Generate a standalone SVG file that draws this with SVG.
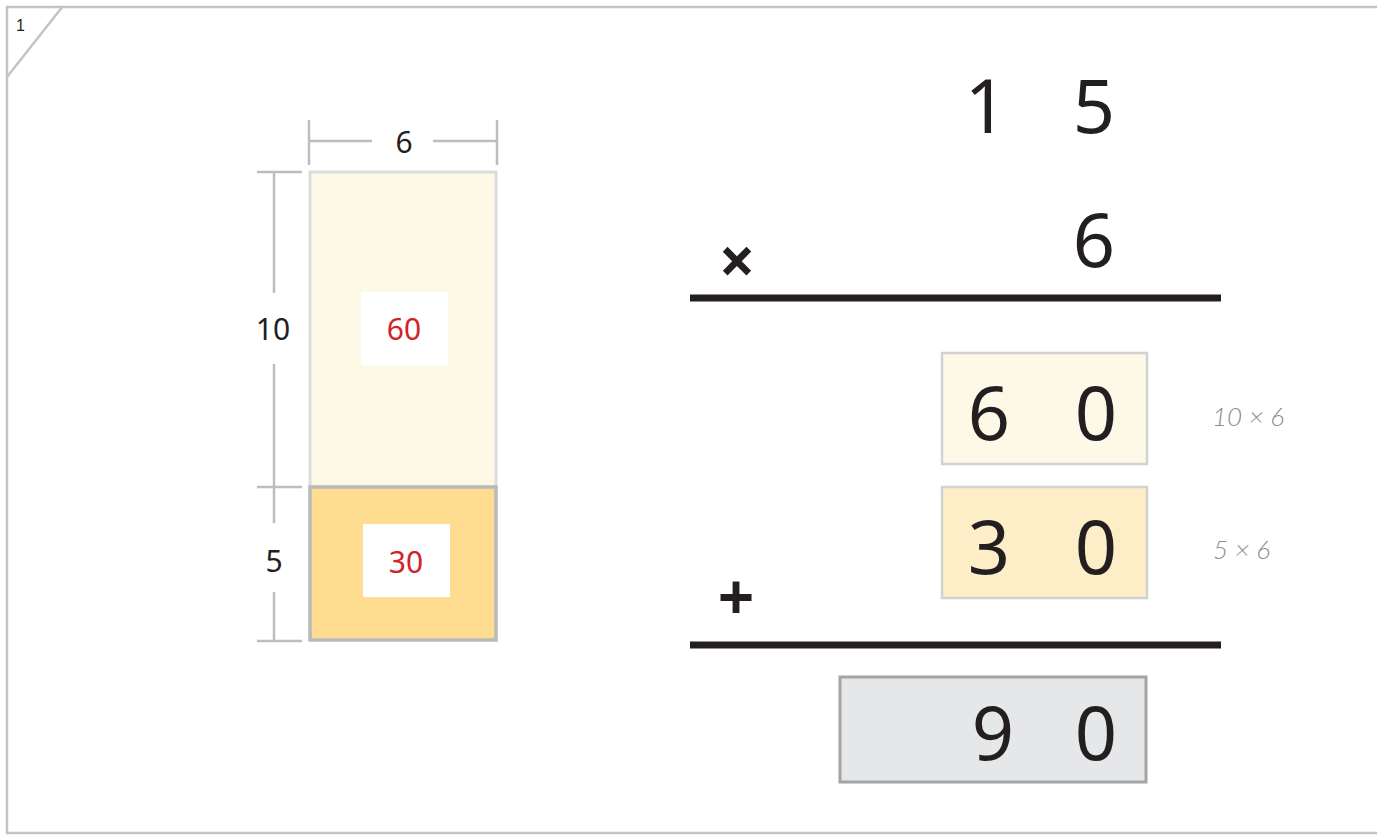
<svg xmlns="http://www.w3.org/2000/svg" width="1377" height="835" viewBox="0 0 1377 835">
<style>
.frame{fill:none;stroke:#c4c4c6;stroke-width:2.5}
.dim{stroke:#bdbdbf;stroke-width:2.5;fill:none}
.dimtxt{font-family:"Noto Sans",sans-serif;font-size:30px;fill:#231f20;text-anchor:middle}
.red{font-family:"Noto Sans",sans-serif;font-size:30px;fill:#d2232a;text-anchor:middle}
.big{font-family:"Noto Sans",sans-serif;font-size:74px;fill:#231f20;text-anchor:middle}
.op{font-family:"Noto Sans",sans-serif;font-size:64px;font-weight:bold;fill:#231f20;text-anchor:middle}
.note{font-family:"Lato","Noto Sans",sans-serif;font-style:italic;font-weight:300;font-size:26px;fill:#8a8a8c}
.rule{stroke:#231f20;stroke-width:7}
</style>
<g id="frame">
<path class="frame" d="M1377,7 H7 V833 H1377"/>
<line class="frame" x1="63" y1="6" x2="7" y2="77"/>
<text x="16" y="31" font-family="Liberation Sans, sans-serif" font-size="16" fill="#231f20">1</text>
</g>
<g id="area-model">
<g id="rect-60">
<rect x="310" y="172" width="186" height="315" fill="#fdf9e7" stroke="#dcdcdd" stroke-width="3"/>
<rect x="361" y="292" width="87" height="73" fill="#ffffff"/>
<text class="red" x="404" y="340">60</text>
</g>
<g id="rect-30">
<rect x="310" y="487" width="186" height="153" fill="#fedd90" stroke="#b9b9bb" stroke-width="3.5"/>
<rect x="363" y="524" width="87" height="73" fill="#ffffff"/>
<text class="red" x="406" y="573">30</text>
</g>
<g id="dimensions">
<line class="dim" x1="309" y1="120" x2="309" y2="165"/>
<line class="dim" x1="497" y1="120" x2="497" y2="165"/>
<line class="dim" x1="309" y1="141" x2="372" y2="141"/>
<line class="dim" x1="433" y1="141" x2="497" y2="141"/>
<text class="dimtxt" x="404" y="153">6</text>
<line class="dim" x1="257" y1="172" x2="302" y2="172"/>
<line class="dim" x1="257" y1="487" x2="302" y2="487"/>
<line class="dim" x1="257" y1="641" x2="302" y2="641"/>
<line class="dim" x1="274" y1="172" x2="274" y2="293"/>
<line class="dim" x1="274" y1="364" x2="274" y2="523"/>
<line class="dim" x1="274" y1="592" x2="274" y2="641"/>
<text class="dimtxt" x="273" y="340">10</text>
<text class="dimtxt" x="274" y="572">5</text>
</g>
</g>
<g id="multiplication">
<text class="big" x="986" y="133">1</text>
<text class="big" x="1094" y="133">5</text>
<text class="op" x="737" y="284">×</text>
<text class="big" x="1094" y="267">6</text>
<line class="rule" x1="690" y1="298" x2="1221" y2="298"/>
<g id="partial-60">
<rect x="942" y="353" width="205" height="111" fill="#fdf9e7" stroke="#d2d2d3" stroke-width="2.5"/>
<text class="big" x="989" y="440">6</text>
<text class="big" x="1096" y="440">0</text>
<text class="note" x="1212" y="426">10 × 6</text>
</g>
<g id="partial-30">
<rect x="942" y="487" width="205" height="111" fill="#fdeec8" stroke="#d2d2d3" stroke-width="2.5"/>
<text class="big" x="989" y="574">3</text>
<text class="big" x="1096" y="574">0</text>
<text class="note" x="1213" y="559">5 × 6</text>
</g>
<text class="op" x="736" y="620">+</text>
<line class="rule" x1="690" y1="645" x2="1221" y2="645"/>
<g id="total-90">
<rect x="840" y="677" width="306" height="105" fill="#e6e7e9" stroke="#a3a4a6" stroke-width="3"/>
<text class="big" x="993" y="760">9</text>
<text class="big" x="1096" y="760">0</text>
</g>
</g>
</svg>
